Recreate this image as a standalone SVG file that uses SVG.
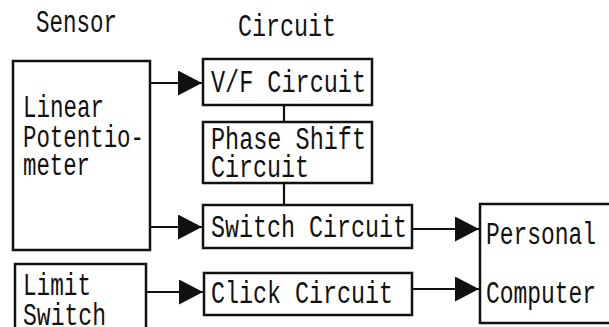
<svg xmlns="http://www.w3.org/2000/svg" width="609" height="327" viewBox="0 0 609 327">
<style>
.box{fill:#fff;stroke:#111;stroke-width:2.5}
.ln{fill:none;stroke:#111;stroke-width:2.2}
text{font-family:"Liberation Mono","DejaVu Sans Mono",monospace;font-size:31px;fill:#111}
</style>
<defs>
<marker id="ah" markerUnits="userSpaceOnUse" markerWidth="26" markerHeight="26" refX="24" refY="12.5" orient="auto">
<path d="M0,0 L24,12.5 L0,25 z" fill="#111"/>
</marker>
</defs>
<rect width="609" height="327" fill="#fff"/>
<g id="headings">
<text x="36" y="32" textLength="81" lengthAdjust="spacingAndGlyphs">Sensor</text>
<text x="238" y="36" textLength="98" lengthAdjust="spacingAndGlyphs">Circuit</text>
</g>
<g id="connectors">
<line class="ln" x1="150" y1="83" x2="202" y2="83" marker-end="url(#ah)"/>
<line class="ln" x1="150" y1="227" x2="202" y2="227" marker-end="url(#ah)"/>
<line class="ln" x1="146" y1="292" x2="203" y2="292" marker-end="url(#ah)"/>
<line class="ln" x1="412" y1="229" x2="479" y2="229" marker-end="url(#ah)"/>
<line class="ln" x1="412" y1="289" x2="479" y2="289" marker-end="url(#ah)"/>
<line class="ln" x1="284" y1="105" x2="284" y2="122"/>
<line class="ln" x1="284" y1="183" x2="284" y2="205"/>
</g>
<g id="linear-potentiometer">
<rect class="box" x="13" y="61" width="137" height="189"/>
<text x="23" y="117" textLength="81" lengthAdjust="spacingAndGlyphs">Linear</text>
<text x="23" y="147" textLength="121" lengthAdjust="spacingAndGlyphs">Potentio-</text>
<text x="23" y="175" textLength="67" lengthAdjust="spacingAndGlyphs">meter</text>
</g>
<g id="limit-switch">
<rect class="box" x="15" y="264" width="131" height="70"/>
<text x="23" y="295" textLength="68" lengthAdjust="spacingAndGlyphs">Limit</text>
<text x="23" y="325" textLength="83" lengthAdjust="spacingAndGlyphs">Switch</text>
</g>
<g id="vf-circuit">
<rect class="box" x="203" y="59" width="169" height="46"/>
<text x="211" y="92" textLength="155" lengthAdjust="spacingAndGlyphs">V/F Circuit</text>
</g>
<g id="phase-shift-circuit">
<rect class="box" x="203" y="122" width="169" height="61"/>
<text x="211" y="149" textLength="155" lengthAdjust="spacingAndGlyphs">Phase Shift</text>
<text x="211" y="177" textLength="98" lengthAdjust="spacingAndGlyphs">Circuit</text>
</g>
<g id="switch-circuit">
<rect class="box" x="203" y="205" width="209" height="43"/>
<text x="211" y="237" textLength="196" lengthAdjust="spacingAndGlyphs">Switch Circuit</text>
</g>
<g id="click-circuit">
<rect class="box" x="204" y="273" width="208" height="42"/>
<text x="211" y="303" textLength="182" lengthAdjust="spacingAndGlyphs">Click Circuit</text>
</g>
<g id="personal-computer">
<rect class="box" x="480" y="204" width="135" height="119"/>
<text x="486" y="244" textLength="110" lengthAdjust="spacingAndGlyphs">Personal</text>
<text x="486" y="303" textLength="110" lengthAdjust="spacingAndGlyphs">Computer</text>
</g>
</svg>
